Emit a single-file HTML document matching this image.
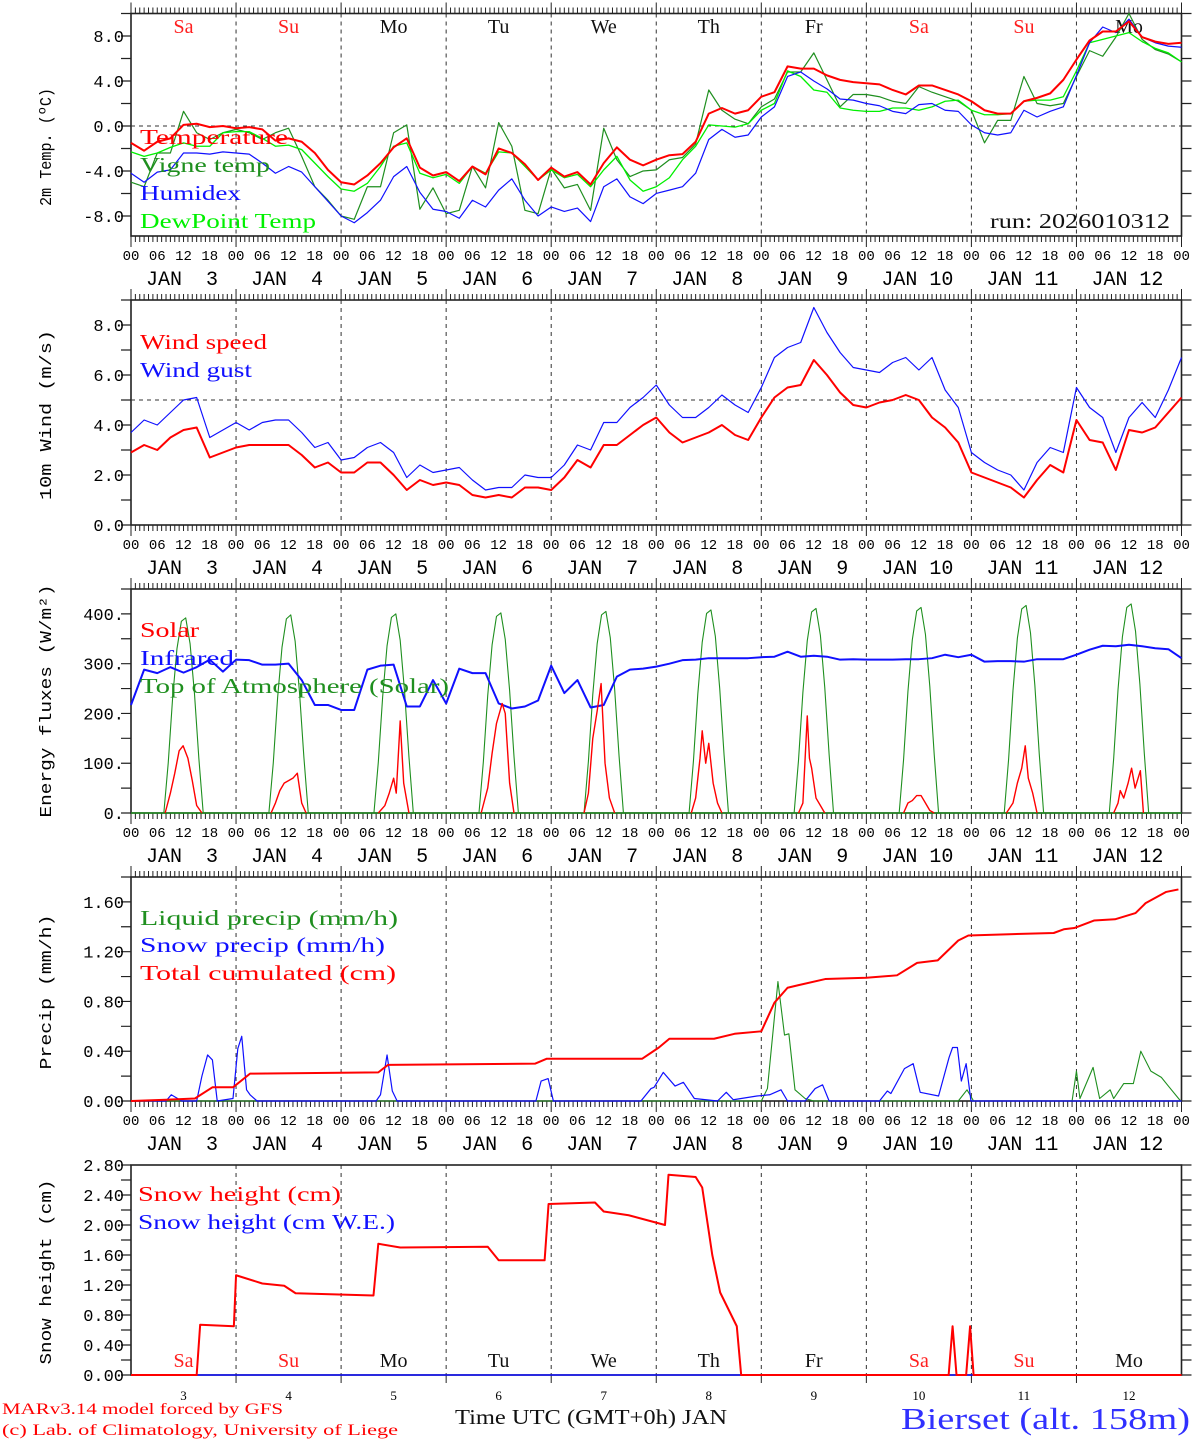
<!DOCTYPE html>
<html><head><meta charset="utf-8"><title>MAR meteogram Bierset</title>
<style>
html,body{margin:0;padding:0;background:#fff;}
svg{display:block;}
text{font-family:"Liberation Serif",serif;}
text.mono{font-family:"Liberation Mono",monospace;}
</style></head>
<body>
<svg id="chart" width="1194" height="1440" viewBox="0 0 1194 1440" xmlns="http://www.w3.org/2000/svg"></svg>
<script>
// ---------- DATA ----------
const dayNames = ["Sa","Su","Mo","Tu","We","Th","Fr","Sa","Su","Mo"];
const dayNums = ["3","4","5","6","7","8","9","10","11","12"];
const hourTicks = ["00","06","12","18"];
// 3-hourly temperatures (deg C) from 00 Jan 3 to 00 Jan 13
const tempValues = [-1.5,-2.2,-1.4,-1.1,0.1,0.2,-0.1,0.0, -0.2,-0.1,-0.3,-1.3,-1.1,-1.4,-2.4,-3.9, -5.0,-5.2,-4.4,-3.3,-1.9,-1.1,-3.7,-4.4, -4.1,-4.9,-3.6,-4.3,-2.0,-2.4,-3.4,-4.8, -3.7,-4.5,-4.1,-5.2,-3.3,-1.9,-3.0,-3.5, -3.0,-2.6,-2.5,-1.4,1.1,1.6,1.1,1.4, 2.6,3.0,5.3,5.1,5.1,4.5,4.1,3.9, 3.8,3.7,3.2,2.8,3.6,3.6,3.2,2.8, 2.2,1.4,1.1,1.1,2.2,2.5,2.9,4.1, 5.9,7.6,8.4,8.4,9.3,7.9,7.5,7.3, 7.4];
const vigneValues = [-5.0,-5.4,-2.4,-2.4,1.3,-0.6,-1.2,-0.6, -0.3,-0.6,-1.2,-0.6,-0.2,-2.7,-5.4,-6.6, -8.0,-8.3,-5.4,-5.4,-0.6,0.1,-7.4,-5.5, -7.8,-7.5,-3.6,-5.5,0.3,-1.8,-7.5,-7.8, -3.8,-5.5,-5.2,-7.5,-0.2,-3.0,-4.5,-4.0, -3.9,-3.0,-2.8,-1.6,3.2,1.4,0.6,0.2, 1.7,2.4,4.8,4.8,6.5,4.1,1.7,2.8, 2.8,2.6,2.2,2.0,3.5,3.0,2.6,2.2, 1.4,-1.5,0.5,0.5,4.4,2.0,1.8,2.0, 4.4,6.7,6.2,7.9,10.0,7.7,6.8,6.4, 5.7];
const humidexValues = [-4.2,-5.0,-4.1,-3.9,-2.4,-2.4,-2.5,-2.3, -2.4,-2.5,-3.3,-4.2,-3.6,-4.1,-5.4,-6.7, -8.0,-8.6,-7.7,-6.6,-4.5,-3.6,-5.9,-7.4, -7.6,-8.2,-6.6,-7.2,-5.7,-4.7,-6.6,-8.0, -7.2,-7.6,-7.3,-8.5,-5.4,-4.7,-6.3,-6.9, -6.0,-5.7,-5.4,-4.2,-1.2,-0.3,-1.0,-0.8, 0.8,1.7,4.4,4.8,4.0,3.3,2.4,2.3, 2.0,1.8,1.3,1.1,1.9,2.0,1.4,1.3, 0.1,-0.6,-0.8,-0.6,1.4,0.8,1.3,1.7, 4.5,7.4,8.8,8.3,9.5,7.9,7.4,7.1, 7.0];
const dewValues = [-2.3,-2.7,-2.4,-1.9,-1.5,-1.8,-1.8,-0.6, -0.5,-0.5,-1.1,-1.8,-1.7,-2.1,-3.3,-4.5, -5.6,-5.8,-5.1,-3.6,-1.8,-1.5,-4.2,-4.6, -4.3,-5.1,-3.6,-4.2,-2.3,-2.4,-3.6,-4.8, -3.9,-4.6,-4.3,-5.4,-3.9,-2.7,-4.8,-5.8, -5.4,-4.6,-3.0,-1.8,0.1,0.0,-0.1,0.2, 1.4,2.0,4.9,4.4,3.2,3.0,1.6,1.4, 1.3,1.3,1.6,1.6,1.4,1.7,2.2,2.3, 1.4,1.0,1.0,1.1,2.2,2.3,2.3,2.6, 4.9,7.4,7.7,8.0,8.3,7.5,6.9,6.5, 5.7];
// 3-hourly wind (m/s)
const windSpeed = [2.9,3.2,3.0,3.5,3.8,3.9,2.7,2.9, 3.1,3.2,3.2,3.2,3.2,2.8,2.3,2.5, 2.1,2.1,2.5,2.5,2.0,1.4,1.8,1.6, 1.7,1.6,1.2,1.1,1.2,1.1,1.5,1.5, 1.4,1.9,2.6,2.3,3.2,3.2,3.6,4.0, 4.3,3.7,3.3,3.5,3.7,4.0,3.6,3.4, 4.3,5.1,5.5,5.6,6.6,6.0,5.3,4.8, 4.7,4.9,5.0,5.2,5.0,4.3,3.9,3.3, 2.1,1.9,1.7,1.5,1.1,1.8,2.4,2.1, 4.2,3.4,3.3,2.2,3.8,3.7,3.9,4.5, 5.1];
const windGust = [3.7,4.2,4.0,4.5,5.0,5.1,3.5,3.8, 4.1,3.8,4.1,4.2,4.2,3.7,3.1,3.3, 2.6,2.7,3.1,3.3,2.9,1.9,2.4,2.1, 2.2,2.3,1.8,1.4,1.5,1.5,2.0,1.9, 1.9,2.4,3.2,3.0,4.1,4.1,4.7,5.1, 5.6,4.8,4.3,4.3,4.7,5.2,4.8,4.5, 5.5,6.7,7.1,7.3,8.7,7.7,6.9,6.3, 6.2,6.1,6.5,6.7,6.2,6.7,5.4,4.7, 2.9,2.5,2.2,2.0,1.4,2.5,3.1,2.9, 5.5,4.7,4.3,2.9,4.3,4.9,4.3,5.4, 6.7];
// 3-hourly infrared (W/m2)
const infraredValues = [217,288,281,293,282,293,308,284, 308,307,298,298,300,267,217,217, 207,207,288,296,298,214,214,267, 220,290,281,281,220,210,214,226, 296,241,267,212,217,274,288,290, 294,300,307,308,311,311,311,311, 313,314,324,314,316,314,308,309, 308,308,308,309,309,311,318,313, 318,304,305,305,304,309,309,309, 318,328,336,335,338,335,331,329, 311];
// Top of atmosphere solar: shared relative hours, values per day
const toaRelHours = [7.5,8.5,9.5,10.5,11.5,12.5,13.5,14.5,15.5,16.5];
const toaByDay = [
 [0,100,230,330,385,392,340,240,110,0],
 [0,100,232,333,390,398,345,242,112,0],
 [0,102,234,336,393,400,347,244,113,0],
 [0,103,236,338,395,402,349,246,114,0],
 [0,104,238,340,398,405,352,248,115,0],
 [0,105,240,343,401,408,355,250,116,0],
 [0,106,242,346,404,411,357,252,117,0],
 [0,107,244,348,406,413,359,254,118,0],
 [0,108,246,351,410,417,362,256,119,0],
 [0,109,248,354,413,420,365,258,120,0]];
// Solar per day: [relative hour, W/m2]
const solarByDay = [
 [[7.8,0],[9,40],[10,80],[11,125],[11.9,135],[13,110],[14,65],[15,15],[16.2,0]],
 [[8,0],[9,20],[10,45],[11,60],[12,65],[13,70],[14,80],[15,20],[16,0]],
 [[8.5,0],[10,15],[11,40],[12,70],[12.6,40],[13.5,185],[14.3,60],[15.5,0]],
 [[8,0],[9.5,50],[10.5,120],[11.5,180],[12.8,220],[13.5,200],[14.5,60],[15.5,0]],
 [[7.5,0],[8.5,40],[9.5,150],[10.5,205],[11.4,260],[12.3,100],[13.3,30],[14.5,0]],
 [[8,0],[9,30],[10,110],[10.5,165],[11.3,100],[12,140],[13,60],[14,20],[15,0]],
 [[8.5,0],[9.5,20],[10.5,195],[11,110],[11.5,90],[12.5,30],[13.5,15],[14.5,0]],
 [[8.5,0],[9.5,20],[10.5,25],[11.5,35],[12.5,35],[13.5,20],[14.5,5],[15.5,0]],
 [[8,0],[9.5,20],[10.5,60],[11.5,90],[12.3,135],[13,70],[14,40],[15,0]],
 [[8.5,0],[9.5,20],[10,45],[10.8,30],[11.8,60],[12.6,90],[13.4,50],[14.6,85],[15.3,0]]];
// Precip: [hour since 00 Jan 3, value]
const liquidPrecip = [[0,0],[144,0],[145.4,0.1],[147.8,0.96],[149.3,0.53],[150.3,0.54],[151.7,0.09],[154,0.02],[156,0],[189,0],[191,0.09],[192.5,0],[215,0],[216,0.24],[216.8,0.02],[219.8,0.27],[221.3,0.02],[223.7,0.09],[224.5,0.02],[226.8,0.14],[229,0.14],[230.7,0.40],[233,0.24],[235.4,0.19],[237,0.12],[239.8,0],[240,0]];
const snowPrecip = [[0,0],[8,0],[9.2,0.05],[11.6,0],[15,0],[16.2,0.2],[17.5,0.37],[18.6,0.33],[19.7,0],[23.3,0.02],[24.4,0.42],[25.3,0.52],[26.4,0.09],[27.2,0.05],[28.8,0],[56,0],[57,0.05],[58.5,0.37],[59.7,0.08],[60.8,0],[92.5,0],[93.7,0.16],[95.3,0.18],[96.5,0],[116.5,0],[118.8,0.1],[119.5,0.11],[121.6,0.23],[124.3,0.12],[126.2,0.15],[128.7,0.02],[134,0],[136,0.07],[137.6,0.01],[143,0.04],[145.9,0.05],[148.5,0.09],[150,0],[154,0],[156.3,0.1],[158,0.13],[159.5,0],[171,0],[172.8,0.08],[173.6,0.06],[176.7,0.26],[178.7,0.3],[180.3,0.07],[184.5,0.04],[186.9,0.35],[187.7,0.43],[188.8,0.43],[189.7,0.16],[190.8,0.3],[191.9,0],[240,0]];
const totalCumul = [[0,0],[8,0.01],[14.6,0.02],[18.6,0.11],[23.3,0.11],[27.2,0.22],[56.5,0.23],[58.7,0.29],[92.3,0.30],[95,0.34],[116.8,0.34],[120.6,0.43],[123,0.50],[133.2,0.50],[137.9,0.54],[144,0.56],[147,0.79],[150,0.91],[152.4,0.93],[158.6,0.98],[168,0.99],[175,1.01],[179.6,1.11],[184.3,1.13],[189,1.29],[191.3,1.33],[200.7,1.34],[210.8,1.35],[213.1,1.38],[215.5,1.39],[220,1.45],[224.8,1.46],[229.5,1.51],[231.8,1.59],[236.5,1.68],[239.3,1.70]];
const snowHeight = [[0,0],[15,0],[15.8,0.67],[23.5,0.65],[24,1.33],[30,1.22],[35,1.19],[37.6,1.09],[55.4,1.06],[56.5,1.75],[61.5,1.70],[81.5,1.71],[84,1.53],[94.5,1.53],[95.4,2.28],[106,2.30],[108,2.18],[113.7,2.13],[122,2.00],[122.8,2.67],[129,2.64],[130.5,2.50],[132.8,1.60],[134.6,1.10],[138.4,0.65],[139.4,0],[186.8,0],[187.7,0.65],[188.6,0],[190.8,0],[191.7,0.65],[192.5,0],[240,0]];
const snowHeightWE = [[0,0],[240,0]];
const tempTicks = [8,4,0,-4,-8];
const windTicks = [8,6,4,2,0];
const energyTicks = [400,300,200,100,0];
const precipTicks = [1.6,1.2,0.8,0.4,0];
const snowTicks = [2.8,2.4,2.0,1.6,1.2,0.8,0.4,0];

// ---------- RENDER ----------
const NS = "http://www.w3.org/2000/svg";
const svg = document.getElementById("chart");
const X0 = 131, X1 = 1181.5, HOURS = 240;
function xh(h){ return X0 + h * (X1 - X0) / HOURS; }
function mk(tag, attrs, parent){ const e = document.createElementNS(NS, tag); for (const k in attrs) e.setAttribute(k, attrs[k]); (parent||svg).appendChild(e); return e; }
function txt(s, attrs, parent){ const e = mk("text", attrs, parent); e.textContent = s; return e; }
function isRed(n){ return n === "Sa" || n === "Su"; }

const panels = [
 {id:"temp", top:13.5, bot:236, vmax:10, vmin:-9.78, ticks:tempTicks, minor:2, fmt:v=>v.toFixed(1), title:"2m Temp. (ºC)", tcy:147, tlen:118, hourly:true},
 {id:"wind", top:300, bot:525, vmax:9, vmin:0, ticks:windTicks, minor:1, fmt:v=>v.toFixed(1), title:"10m Wind (m/s)", tcy:415, tlen:170, hourly:true},
 {id:"energy", top:589, bot:813, vmax:450, vmin:0, ticks:energyTicks, minor:50, fmt:v=>v===0?"0.":v+".", title:"Energy fluxes (W/m²)", tcy:701, tlen:233, hourly:true},
 {id:"precip", top:877, bot:1101, vmax:1.8, vmin:0, ticks:precipTicks, minor:0.2, fmt:v=>v.toFixed(2), title:"Precip (mm/h)", tcy:992, tlen:155, hourly:true},
 {id:"snow", top:1165, bot:1375, vmax:2.8, vmin:0, ticks:snowTicks, minor:0.2, fmt:v=>v.toFixed(2), title:"Snow height (cm)", tcy:1272, tlen:185, hourly:false}
];
function yOf(p, v){ return p.bot - (v - p.vmin) * (p.bot - p.top) / (p.vmax - p.vmin); }

panels.forEach(p => {
  const g = mk("g", {});
  
  
  for (let d = 1; d < 10; d++) {
    const l = mk("line", {x1:xh(d*24), x2:xh(d*24), y1:p.top, y2:p.bot, stroke:"#333", "stroke-width":1, "stroke-dasharray":"4 4"}, g);
    
    
  }
  if (p.hourly) {
    let dpath = "";
    for (let h = 0; h <= HOURS; h++) {
      const x = xh(h).toFixed(2);
      const len = (h % 24 === 0) ? 11 : 6;
      dpath += `M${x} ${p.top}V${p.top-len}M${x} ${p.bot}V${p.bot+len}`;
    }
    mk("path", {d:dpath, stroke:"#222", "stroke-width":1, fill:"none"}, g);
    const xl = mk("g", {}, g);
    
    
    for (let d = 0; d <= 10; d++) {
      for (let k = 0; k < 4; k++) {
        if (d === 10 && k > 0) break;
        txt(hourTicks[k], {x:xh(d*24 + k*6), y:p.bot+24, "text-anchor":"middle", "font-size":14, class:"mono"}, xl);
      }
      if (d < 10) {
        txt("JAN", {x:xh(d*24)+33, y:p.bot+49, "text-anchor":"middle", "font-size":20, class:"mono"}, xl);
        txt(dayNums[d], {x:xh(d*24)+87, y:p.bot+49, "text-anchor":"end", "font-size":20, class:"mono"}, xl);
      }
    }
  } else {
    for (let d = 1; d < 10; d++) mk("line", {x1:xh(d*24), x2:xh(d*24), y1:p.bot, y2:p.bot+8, stroke:"#222"}, g);
  }
  const fr = mk("rect", {x:X0, y:p.top, width:X1-X0, height:p.bot-p.top, fill:"none", stroke:"#222", "stroke-width":1.6}, g);
  
  
  let yp = "";
  const n = Math.round((p.vmax - p.vmin) / p.minor);
  for (let i = 0; i <= n + 1; i++) {
    const v = Math.ceil(p.vmin / p.minor) * p.minor + i * p.minor;
    if (v > p.vmax + 1e-6) break;
    const y = yOf(p, v).toFixed(2);
    yp += `M${X0} ${y}H${X0-10}M${X1} ${y}H${X1+10}`;
  }
  mk("path", {d:yp, stroke:"#222", "stroke-width":1.2, fill:"none"}, g);
  const yl = mk("g", {}, g);
  
  
  p.ticks.forEach(v => txt(p.fmt(v), {x:124, y:yOf(p, v)+6, "text-anchor":"end", "font-size":17, class:"mono"}, yl));
  const tt = txt(p.title, {x:0, y:0, "text-anchor":"middle", "font-size":17, class:"mono", textLength:p.tlen, lengthAdjust:"spacingAndGlyphs", transform:`translate(51 ${p.tcy}) rotate(-90)`}, g);
  
  
  p.g = g;
});

function line3h(p, vals, color, w, name){
  const d = vals.map((v,i) => (i?"L":"M") + xh(i*3).toFixed(2) + " " + yOf(p, v).toFixed(2)).join("");
  const e = mk("path", {d:d, stroke:color, "stroke-width":w, fill:"none", "stroke-linejoin":"round"}, p.g);
  
  
}
function linePairs(p, pairs, color, w, name){
  const d = pairs.map((q,i) => (i?"L":"M") + xh(q[0]).toFixed(2) + " " + yOf(p, q[1]).toFixed(2)).join("");
  const e = mk("path", {d:d, stroke:color, "stroke-width":w, fill:"none", "stroke-linejoin":"round"}, p.g);
  
  
}
function hline(p, v){ mk("line", {x1:X0, x2:X1, y1:yOf(p,v), y2:yOf(p,v), stroke:"#333", "stroke-dasharray":"4 4"}, p.g); }
function legend(p, items){
  items.forEach(it => {
    const t = txt(it[0], {x:it[3]||140, y:it[2], fill:it[1], "font-size":21, textLength:it[4], lengthAdjust:"spacingAndGlyphs"}, p.g);
    
    
  });
}

const [P1,P2,P3,P4,P5] = panels;
hline(P1, 0);
dayNames.forEach((nm,d) => txt(nm, {x:xh(d*24+12), y:33, "text-anchor":"middle", "font-size":20, fill:isRed(nm)?"#ff2020":"#111"}, P1.g));
line3h(P1, vigneValues, "#1f8f1f", 1.2, "vigne-temp-line");
line3h(P1, dewValues, "#00f000", 1.3, "dewpoint-line");
line3h(P1, humidexValues, "#1010ff", 1.2, "humidex-line");
line3h(P1, tempValues, "#ff0000", 2, "temperature-line");
legend(P1, [["Temperature","#ff0000",144,140,148],["Vigne temp","#1f8f1f",172,140,130],["Humidex","#1010ff",200,140,101],["DewPoint Temp","#00f000",228,140,176]]);
txt("run: 2026010312", {x:990, y:228, "font-size":21, textLength:180, lengthAdjust:"spacingAndGlyphs", fill:"#111"}, P1.g);
hline(P2, 5);
line3h(P2, windGust, "#1010ff", 1.2, "wind-gust-line");
line3h(P2, windSpeed, "#ff0000", 2, "wind-speed-line");
legend(P2, [["Wind speed","#ff0000",349,140,127],["Wind gust","#1010ff",377,140,112]]);
toaByDay.forEach((vals, d) => linePairs(P3, vals.map((v,i) => [d*24 + toaRelHours[i], v]), "#1f8f1f", 1.1, "toa-solar-day-" + (d+1)));
linePairs(P3, [[0,0],[240,0]], "#1f8f1f", 1.5, "toa-baseline");
line3h(P3, infraredValues, "#1010ff", 2, "infrared-line");
solarByDay.forEach((pts, d) => linePairs(P3, pts.map(q => [d*24 + q[0], q[1]]), "#ff0000", 1.4, "solar-day-" + (d+1)));
legend(P3, [["Solar","#ff0000",637,140,59],["Infrared","#1010ff",665,140,94],["Top of Atmosphere (Solar)","#1f8f1f",693,140,309]]);
linePairs(P4, liquidPrecip, "#1f8f1f", 1.1, "liquid-precip-line");
linePairs(P4, snowPrecip, "#1010ff", 1.2, "snow-precip-line");
linePairs(P4, totalCumul, "#ff0000", 2, "total-cumulated-line");
legend(P4, [["Liquid precip (mm/h)","#1f8f1f",925,140,258],["Snow precip (mm/h)","#1010ff",952,140,245],["Total cumulated (cm)","#ff0000",980,140,256]]);
linePairs(P5, snowHeightWE, "#1010ff", 1.5, "snow-height-we-line");
linePairs(P5, snowHeight, "#ff0000", 2, "snow-height-line");
legend(P5, [["Snow height (cm)","#ff0000",1201,138,203],["Snow height (cm W.E.)","#1010ff",1229,138,257]]);
dayNames.forEach((nm,d) => txt(nm, {x:xh(d*24+12), y:1367, "text-anchor":"middle", "font-size":20, fill:isRed(nm)?"#ff2020":"#111"}, P5.g));
dayNums.forEach((nm,d) => txt(nm, {x:xh(d*24+12), y:1400, "text-anchor":"middle", "font-size":13}, P5.g));

const f1 = txt("Time UTC (GMT+0h) JAN", {x:455, y:1424, "font-size":21, textLength:272, lengthAdjust:"spacingAndGlyphs", fill:"#111"});


const f2 = txt("MARv3.14 model forced by GFS", {x:2, y:1414, "font-size":16, textLength:281, lengthAdjust:"spacingAndGlyphs", fill:"#ff0000"});


const f3 = txt("(c) Lab. of Climatology, University of Liege", {x:2, y:1435, "font-size":16, textLength:396, lengthAdjust:"spacingAndGlyphs", fill:"#ff0000"});


const f4 = txt("Bierset (alt. 158m)", {x:901, y:1429, "font-size":31, textLength:289, lengthAdjust:"spacingAndGlyphs", fill:"#3030ff"});


</script>
</body></html>
